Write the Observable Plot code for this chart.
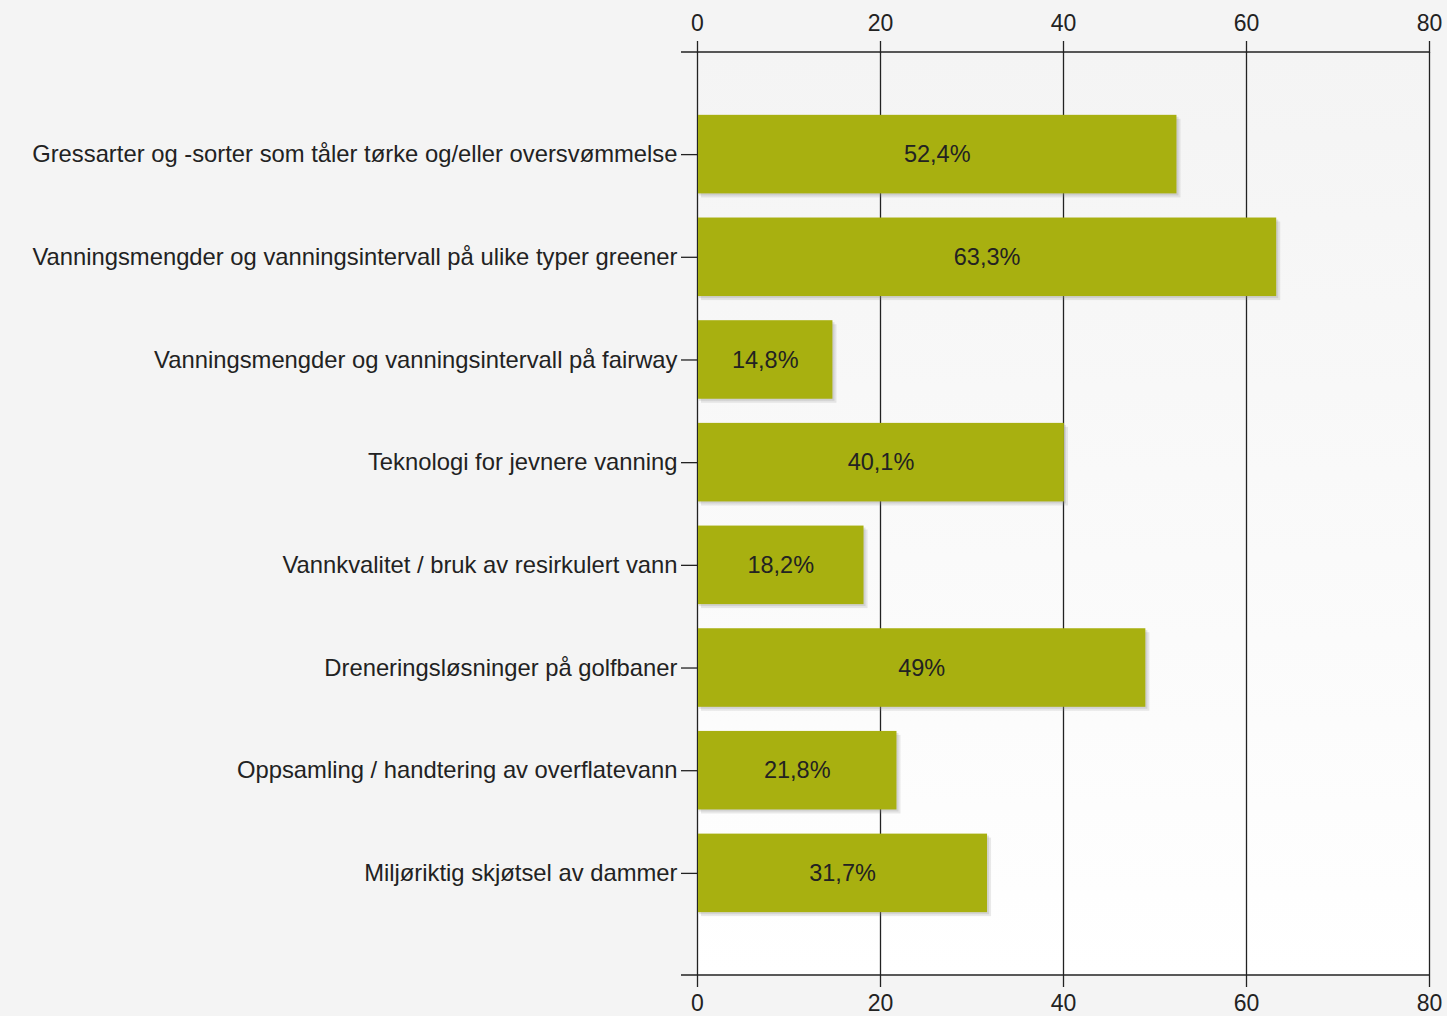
<!DOCTYPE html>
<html>
<head>
<meta charset="utf-8">
<script src="https://cdn.jsdelivr.net/npm/d3@7"></script>
<script src="https://cdn.jsdelivr.net/npm/@observablehq/plot@0.6"></script>
<style>
  html, body { margin: 0; padding: 0; background: #f4f4f4; }
</style>
</head>
<body>
<div id="chart"></div>
<script>
const categories = [
  "Gressarter og -sorter som tåler tørke og/eller oversvømmelse",
  "Vanningsmengder og vanningsintervall på ulike typer greener",
  "Vanningsmengder og vanningsintervall på fairway",
  "Teknologi for jevnere vanning",
  "Vannkvalitet / bruk av resirkulert vann",
  "Dreneringsløsninger på golfbaner",
  "Oppsamling / handtering av overflatevann",
  "Miljøriktig skjøtsel av dammer"
];
const values = [52.4, 63.3, 14.8, 40.1, 18.2, 49, 21.8, 31.7];
const valueLabels = ["52,4%", "63,3%", "14,8%", "40,1%", "18,2%", "49%", "21,8%", "31,7%"];
const xTicks = [0, 20, 40, 60, 80];

const data = categories.map((c, i) => ({category: c, value: values[i], label: valueLabels[i]}));

const chart = Plot.plot({
  width: 1447,
  height: 1016,
  marginLeft: 697,
  marginRight: 18,
  marginTop: 52,
  marginBottom: 41,
  style: {background: "#f4f4f4", fontFamily: "'Liberation Sans', Arial, sans-serif", fontSize: "23px", color: "#222"},
  x: {domain: [0, 80], ticks: xTicks},
  y: {domain: categories, paddingInner: 0.235, paddingOuter: 0.612, round: false, label: null},
  marks: [
    Plot.frame({fill: "url(#plotbg)", stroke: "none"}),
    Plot.ruleX(xTicks, {stroke: "#222", strokeWidth: 1.3}),
    Plot.barX(data, {x: "value", y: "category", fill: "#888", fillOpacity: 0.18, dx: 4, dy: 4}),
    Plot.barX(data, {x: "value", y: "category", fill: "#888", fillOpacity: 0.22, dx: 2, dy: 2}),
    Plot.barX(data, {x: "value", y: "category", fill: "#a8b010", insetLeft: 1}),
    Plot.text(data, {x: d => d.value / 2, y: "category", text: "label", fill: "#222", fontSize: 23.5}),
    Plot.axisX({anchor: "top", ticks: xTicks, tickSize: 12, tickPadding: 10, label: null, fontSize: 23, stroke: "#222", strokeWidth: 1.3}),
    Plot.axisX({anchor: "bottom", ticks: xTicks, tickSize: 12, tickPadding: 7, label: null, fontSize: 23, stroke: "#222", strokeWidth: 1.3}),
    Plot.axisY({tickSize: 16, tickPadding: 4, label: null, fontSize: 23.8, stroke: "#222", strokeWidth: 1.3})
  ]
});

const svg = d3.select(chart);
const defs = svg.insert("defs", ":first-child");
const grad = defs.append("linearGradient").attr("id", "plotbg").attr("x1", 0).attr("y1", 0).attr("x2", 0).attr("y2", 1);
grad.append("stop").attr("offset", "0%").attr("stop-color", "#f4f4f4");
grad.append("stop").attr("offset", "100%").attr("stop-color", "#ffffff");

const xs = chart.scale("x");
const [x0, x1] = xs.range;
const yr = chart.scale("y").range;
[yr[0], yr[1]].forEach(yy => {
  svg.append("line")
    .attr("x1", x0 - 16).attr("x2", x1)
    .attr("y1", yy).attr("y2", yy)
    .attr("stroke", "#222").attr("stroke-width", 1.3);
});

document.getElementById("chart").appendChild(chart);
</script>
</body>
</html>
